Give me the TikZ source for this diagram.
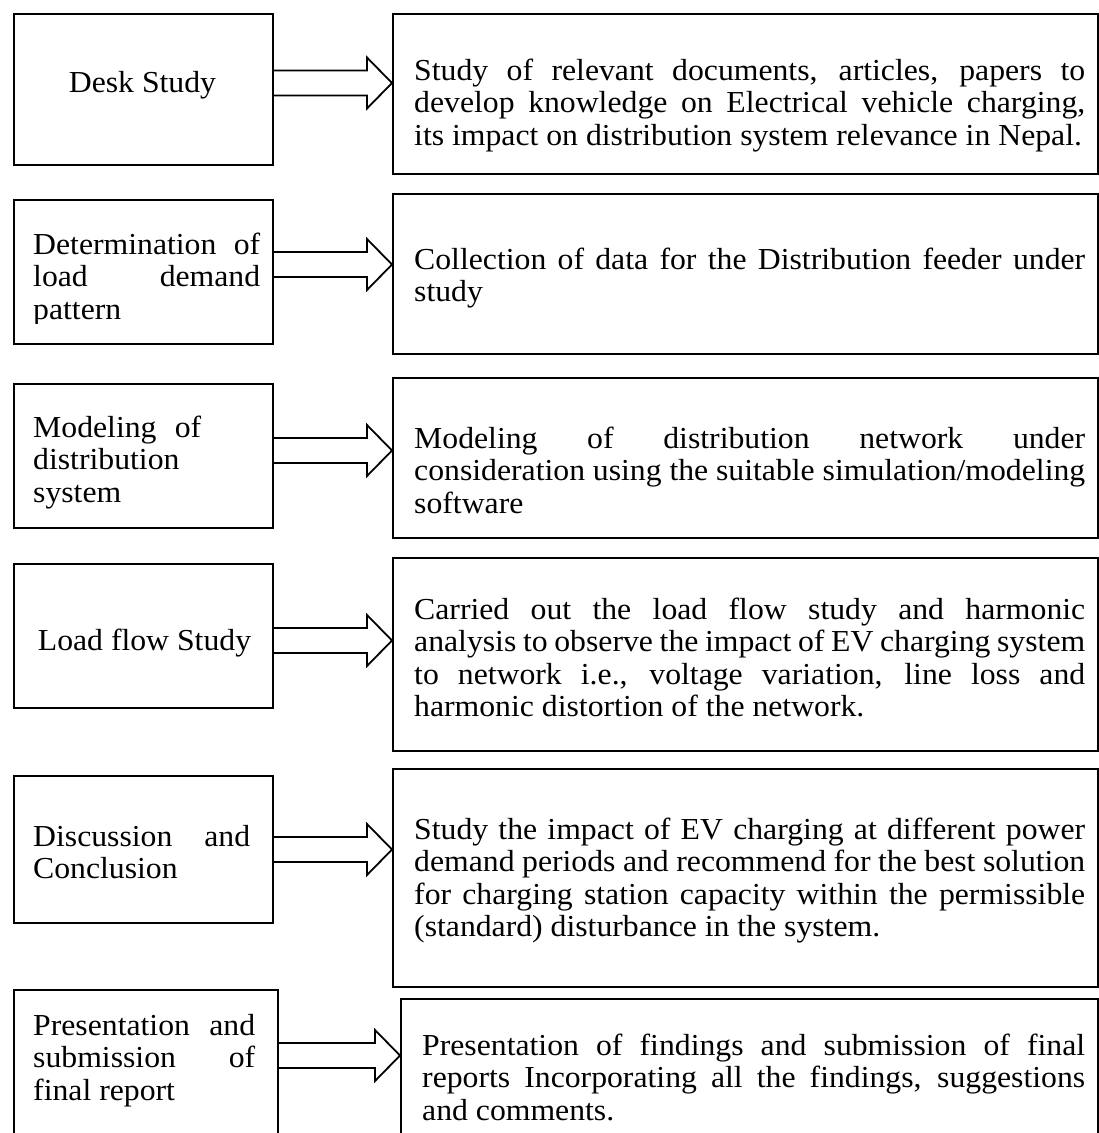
\documentclass[tikz,border=0pt]{standalone}
\usepackage{fontspec}
\setmainfont{Liberation Serif}[FakeStretch=1.04]
\usetikzlibrary{calc}
\hyphenpenalty=10000
\exhyphenpenalty=10000
\hbadness=10000

\begin{document}
\begin{tikzpicture}[x=1pt,y=-1pt,
	stagebox/.style={draw,line width=2pt,inner sep=0pt,anchor=north west},
	steptext/.style={inner sep=0pt,font=\fontsize{30.5pt}{32.5pt}\selectfont},
	lefttext/.style={steptext,anchor=base west,align=justify},
	righttext/.style={steptext,anchor=base west,align=justify,text width=671pt},
	fatarrow/.style={line width=1.8pt,line join=miter}]
	\useasboundingbox (0,0) rectangle (1099,1133);
	% left column
	\node[stagebox,minimum width=259pt,minimum height=151pt] (l1) at (13,13) {};
	\node[stagebox,minimum width=259pt,minimum height=144pt] (l2) at (13,199) {};
	\node[stagebox,minimum width=259pt,minimum height=144pt] (l3) at (13,383) {};
	\node[stagebox,minimum width=259pt,minimum height=144pt] (l4) at (13,563) {};
	\node[stagebox,minimum width=259pt,minimum height=147pt] (l5) at (13,775) {};
	\node[stagebox,minimum width=264pt,minimum height=200pt] (l6) at (13,989) {};
	% right column
	\node[stagebox,minimum width=705pt,minimum height=160pt] (r1) at (392,13) {};
	\node[stagebox,minimum width=705pt,minimum height=160pt] (r2) at (392,193) {};
	\node[stagebox,minimum width=705pt,minimum height=160pt] (r3) at (392,377) {};
	\node[stagebox,minimum width=705pt,minimum height=193pt] (r4) at (392,557) {};
	\node[stagebox,minimum width=705pt,minimum height=218pt] (r5) at (392,768) {};
	\node[stagebox,minimum width=697pt,minimum height=200pt] (r6) at (400,998) {};
	% texts
	\node[steptext,anchor=base] (t1) at (142.5,92) {Desk Study};
	\begin{scope}
		\clip (0,0) rectangle (1099,323);
		\node[lefttext,text width=227pt] (t2) at (33,254) {Determination of\linebreak load demand\linebreak pattern};
	\end{scope}
	\node[lefttext,text width=168pt] (t3) at (33,437) {Modeling of\linebreak distribution\newline system};
	\node[steptext,anchor=base] (t4) at (144.5,650) {Load flow Study};
	\node[lefttext,text width=217pt] (t5) at (33,846) {Discussion and\linebreak Conclusion};
	\node[lefttext,text width=222pt] (t6) at (33,1035) {Presentation and\linebreak submission of\linebreak final report};
	\node[righttext] (s1) at (414,80) {Study of relevant documents, articles, papers to\linebreak develop knowledge on Electrical vehicle charging,\linebreak its impact on distribution system relevance in Nepal.};
	\node[righttext] (s2) at (414,269) {Collection of data for the Distribution feeder under\linebreak study};
	\node[righttext] (s3) at (414,448) {Modeling of distribution network under\linebreak consideration using the suitable simulation/modeling\linebreak software};
	\node[righttext] (s4) at (414,619) {Carried out the load flow study and harmonic\linebreak analysis to observe the impact of EV charging system\linebreak to network i.e., voltage variation, line loss and\linebreak harmonic distortion of the network.};
	\node[righttext] (s5) at (414,839) {Study the impact of EV charging at different power\linebreak demand periods and recommend for the best solution\linebreak for charging station capacity within the permissible\linebreak (standard) disturbance in the system.};
	\node[righttext,text width=663pt] (s6) at (422,1055) {Presentation of findings and submission of final\linebreak reports Incorporating all the findings, suggestions\linebreak and comments.};
	% arrows
	\coordinate (a1) at (0,83);
	\coordinate (a2) at (0,264.5);
	\coordinate (a3) at (0,450.5);
	\coordinate (a4) at (0,640.5);
	\coordinate (a5) at (0,849.5);
	\coordinate (a6) at (0,1055.5);
	\foreach \i in {1,...,6}{
		\draw[fatarrow] ($(l\i.east |- a\i)+(0,-12.5)$) -- ($(r\i.west |- a\i)+(-25,-12.5)$) -- ++(0,-13) -- (r\i.west |- a\i) -- ($(r\i.west |- a\i)+(-25,25.5)$) -- ++(0,-13) -- ($(l\i.east |- a\i)+(0,12.5)$);
	}
\end{tikzpicture}
\end{document}
